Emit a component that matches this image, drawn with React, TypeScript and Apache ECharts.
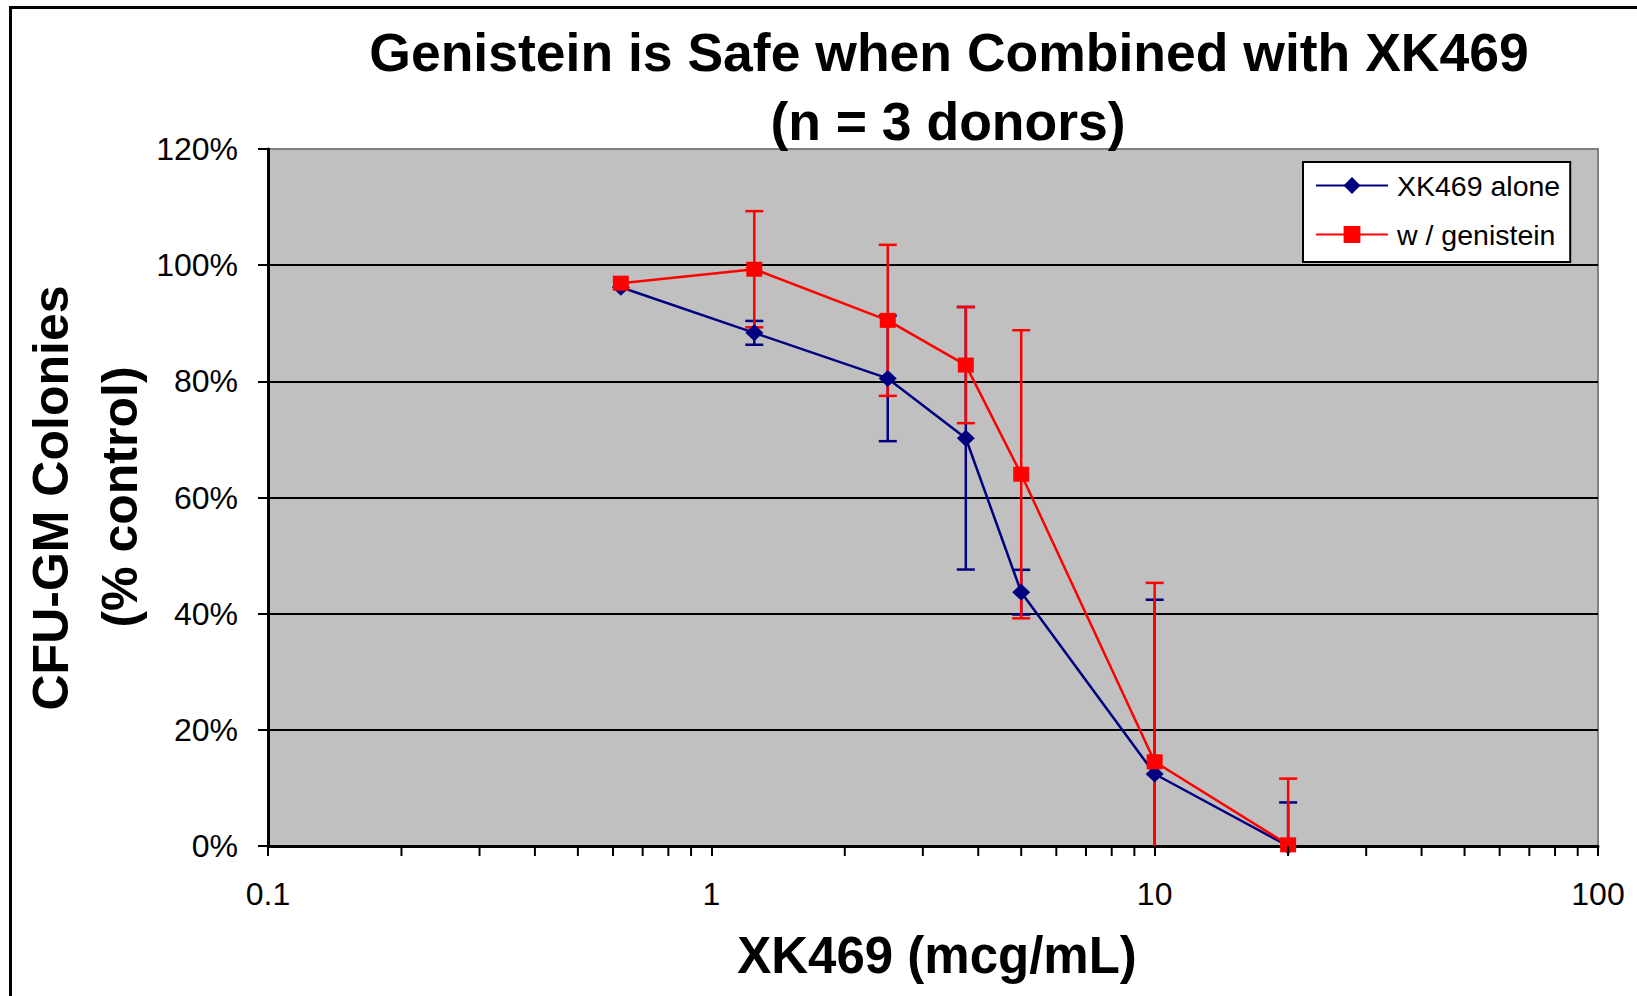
import React, { useEffect, useRef } from "react";
import * as echarts from "echarts";

// ---- data ----
const doses = [0.625, 1.25, 2.5, 3.75, 5, 10, 20];
const aloneValues = [96.2, 88.35, 80.5, 70.2, 43.7, 12.4, 0];
const aloneErrors = [0, 2.05, 10.8, 22.6, 3.85, 30.0, 7.5];
const genValues = [96.9, 99.3, 90.5, 82.8, 64.0, 14.5, 0.2];
const genErrors = [0, 10.0, 13.0, 10.0, 24.8, 30.8, 11.4];
const xTickLabels = ["0.1", "1", "10", "100"];
const yTickValues = [0, 20, 40, 60, 80, 100, 120];
const minorTicks = [0.2, 0.3, 0.4, 0.5, 0.6, 0.7, 0.8, 0.9, 2, 3, 4, 5, 6, 7, 8, 9, 20, 30, 40, 50, 60, 70, 80, 90];
const seriesNames = ["XK469 alone", "w / genistein"];
const titleLines = ["Genistein is Safe when Combined with XK469", "(n = 3 donors)"];
const yNameLines = ["CFU-GM Colonies", "(% control)"];
const xName = "XK469 (mcg/mL)";

const FONT = "'Liberation Sans', Arial, sans-serif";
const BLUE = "#000080";
const RED = "#FF0000";
const Y_MAX = 120;

function errRender(color: string) {
  return (params: any, api: any) => {
    const x = api.value(0);
    const y = api.value(1);
    const e = api.value(2);
    if (!e) return null;
    const hiV = Math.min(Y_MAX, y + e);
    const loV = Math.max(0, y - e);
    const pHi = api.coord([x, hiV]);
    const pLo = api.coord([x, loV]);
    const style = { stroke: color, lineWidth: 2.5 };
    const children: any[] = [
      { type: "line", shape: { x1: pHi[0], y1: pHi[1], x2: pLo[0], y2: pLo[1] }, style },
    ];
    const hw = 9;
    if (y + e <= Y_MAX) {
      children.push({ type: "line", shape: { x1: pHi[0] - hw, y1: pHi[1], x2: pHi[0] + hw, y2: pHi[1] }, style });
    }
    if (y - e >= 0) {
      children.push({ type: "line", shape: { x1: pLo[0] - hw, y1: pLo[1], x2: pLo[0] + hw, y2: pLo[1] }, style });
    }
    return { type: "group", children };
  };
}

export default function App() {
  const ref = useRef<HTMLDivElement>(null);
  useEffect(() => {
    if (!ref.current) return;
    const chart = echarts.init(ref.current, null, { renderer: "svg" });
    const option: any = {
      animation: false,
      backgroundColor: "#ffffff",
      textStyle: { fontFamily: FONT },
      grid: {
        left: 268,
        top: 149,
        right: 39,
        bottom: 150,
        show: true,
        backgroundColor: "#C0C0C0",
        borderColor: "#808080",
        borderWidth: 2,
      },
      legend: {
        data: seriesNames,
        orient: "vertical",
        left: 1303,
        top: 162,
        padding: [9, 10, 13, 12],
        itemGap: 20,
        itemWidth: 72,
        itemHeight: 21,
        backgroundColor: "#ffffff",
        borderColor: "#000000",
        borderWidth: 2,
        borderRadius: 0,
        textStyle: { fontSize: 28.5, color: "#000", fontFamily: FONT, padding: [0, 0, 0, 4] },
        lineStyle: { width: 2 },
      },
      xAxis: {
        type: "log",
        logBase: 10,
        min: 0.1,
        max: 100,
        axisLine: { show: true, onZero: false, lineStyle: { color: "#000", width: 3 } },
        axisTick: { show: true, inside: false, length: 10, lineStyle: { color: "#000", width: 2 } },
        axisLabel: {
          fontSize: 32,
          color: "#000",
          fontFamily: FONT,
          margin: 32,
          formatter: (v: number, i: number) => xTickLabels[i] ?? String(v),
        },
        splitLine: { show: false },
      },
      yAxis: {
        type: "value",
        min: 0,
        max: Y_MAX,
        interval: 20,
        axisLine: { show: true, lineStyle: { color: "#000", width: 3 } },
        axisTick: { show: true, inside: false, length: 10, lineStyle: { color: "#000", width: 2 } },
        axisLabel: {
          fontSize: 32,
          color: "#000",
          fontFamily: FONT,
          margin: 30,
          formatter: (v: number) => (yTickValues.includes(v) ? v + "%" : ""),
        },
        splitLine: { show: true, showMaxLine: false, lineStyle: { color: "#000", width: 2 } },
      },
      graphic: [
        {
          type: "rect",
          z: -10,
          shape: { x: 10.5, y: 7.5, width: 1700, height: 1100 },
          style: { fill: "none", stroke: "#000", lineWidth: 3 },
          silent: true,
        },
        {
          type: "text",
          x: 949,
          y: 52,
          style: { text: titleLines[0], font: `bold 53.5px ${FONT}`, fill: "#000", align: "center", verticalAlign: "middle" },
        },
        {
          type: "text",
          x: 948,
          y: 121,
          style: { text: titleLines[1], font: `bold 53.5px ${FONT}`, fill: "#000", align: "center", verticalAlign: "middle" },
        },
        {
          type: "text",
          x: 51,
          y: 498,
          rotation: Math.PI / 2,
          style: { text: yNameLines[0], font: `bold 50px ${FONT}`, fill: "#000", align: "center", verticalAlign: "middle" },
        },
        {
          type: "text",
          x: 120,
          y: 497,
          rotation: Math.PI / 2,
          style: { text: yNameLines[1], font: `bold 50px ${FONT}`, fill: "#000", align: "center", verticalAlign: "middle" },
        },
        {
          type: "text",
          x: 937,
          y: 955,
          style: { text: xName, font: `bold 51px ${FONT}`, fill: "#000", align: "center", verticalAlign: "middle" },
        },
      ],
      series: [
        {
          type: "custom",
          name: "minor ticks",
          silent: true,
          clip: false,
          z: 5,
          data: minorTicks.map((v) => [v, 0]),
          encode: { x: 0, y: 1 },
          renderItem: (params: any, api: any) => {
            const p = api.coord([api.value(0), 0]);
            return {
              type: "line",
              shape: { x1: p[0], y1: p[1], x2: p[0], y2: p[1] + 10 },
              style: { stroke: "#000", lineWidth: 2 },
            };
          },
        },
        {
          type: "custom",
          name: "alone err",
          silent: true,
          z: 1,
          data: doses.map((d, i) => [d, aloneValues[i], aloneErrors[i]]),
          encode: { x: 0, y: 1 },
          renderItem: errRender(BLUE),
        },
        {
          type: "custom",
          name: "gen err",
          silent: true,
          z: 2,
          data: doses.map((d, i) => [d, genValues[i], genErrors[i]]),
          encode: { x: 0, y: 1 },
          renderItem: errRender(RED),
        },
        {
          type: "line",
          name: seriesNames[0],
          z: 3,
          data: doses.map((d, i) => [d, aloneValues[i]]),
          symbol: "diamond",
          symbolSize: [18, 17],
          lineStyle: { color: BLUE, width: 2.5 },
          itemStyle: { color: BLUE },
        },
        {
          type: "line",
          name: seriesNames[1],
          z: 4,
          data: doses.map((d, i) => [d, genValues[i]]),
          symbol: "rect",
          symbolSize: [16, 15],
          lineStyle: { color: RED, width: 2.5 },
          itemStyle: { color: RED },
        },
      ],
    };
    chart.setOption(option);
    return () => chart.dispose();
  }, []);
  return (
    <div
      ref={ref}
      style={{ position: "fixed", left: 0, top: 0, width: 1637, height: 996, background: "#fff" }}
    />
  );
}
